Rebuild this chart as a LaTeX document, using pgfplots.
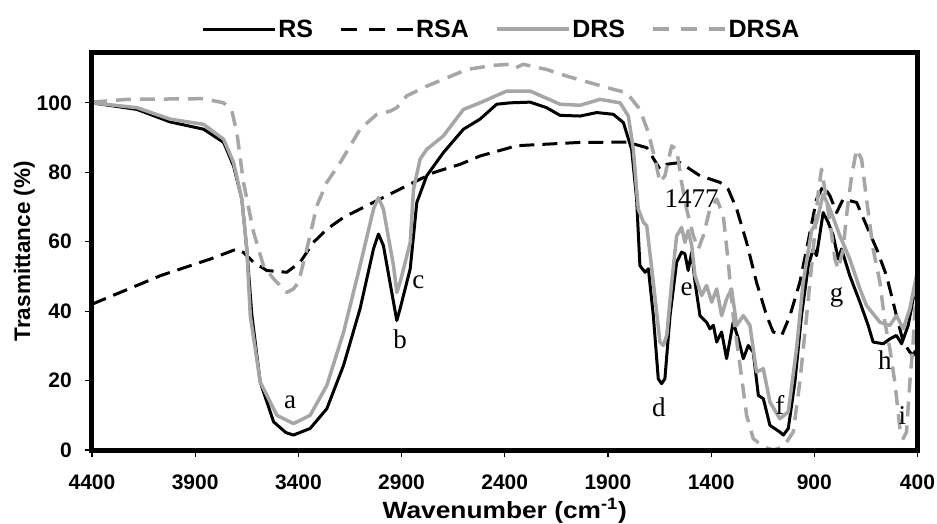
\documentclass[border=0pt]{standalone}
\usepackage{fontspec}
\setmainfont{Liberation Sans}
\newfontfamily\tnr{Liberation Serif}
\usepackage{pgfplots}
\usepackage{pgfplotstable}
\pgfplotsset{compat=1.18}
\definecolor{lg}{RGB}{166,166,166}

\pgfplotstableread{
x y
4400 100.0
4182 98.1
4021 94.5
3859 92.4
3762 88.6
3714 81.8
3674 72.3
3650 57.9
3625 38.7
3585 19.6
3520 8.1
3460 5.0
3424 4.3
3343 6.2
3262 11.9
3181 24.4
3101 40.7
3036 57.9
3012 62.2
2988 58.9
2939 42.6
2923 37.3
2907 40.7
2858 52.2
2842 61.7
2826 71.3
2778 79.0
2697 85.7
2600 92.4
2520 95.3
2439 99.6
2374 100.0
2277 100.2
2197 98.6
2132 96.4
2035 96.2
1954 97.2
1874 96.7
1825 94.3
1785 86.6
1761 72.3
1745 53.1
1720 51.2
1704 52.2
1680 38.7
1656 20.5
1640 19.1
1624 20.5
1599 38.7
1567 54.1
1543 57.0
1527 56.5
1511 51.7
1494 57.0
1478 48.3
1454 38.7
1422 36.8
1406 34.9
1389 35.9
1373 31.1
1349 34.0
1325 26.3
1293 36.8
1268 32.0
1244 26.3
1220 30.1
1196 28.2
1171 15.7
1147 14.8
1115 7.1
1067 5.2
1050 4.3
1026 6.2
994 19.6
962 38.7
929 53.1
905 57.9
889 56.0
857 68.4
833 65.6
808 61.7
784 55.0
768 57.9
728 50.2
679 42.6
639 35.9
615 31.1
566 30.6
534 32.0
502 33.0
477 30.6
445 35.9
421 43.5
405 49.3
}\RS

\pgfplotstableread{
x y
4400 42.0
4069 50.2
3827 55.0
3698 57.9
3666 56.9
3617 54.1
3553 51.7
3456 51.2
3391 54.1
3327 59.8
3262 63.6
3181 67.0
3101 69.4
3004 72.3
2939 74.2
2858 76.6
2745 79.9
2616 82.3
2519 84.7
2374 87.1
2358 87.6
2197 88.1
2035 88.6
1809 88.7
1712 87.1
1648 80.9
1615 82.3
1551 82.8
1454 79.0
1357 77.1
1317 75.1
1276 69.4
1228 59.8
1180 48.3
1131 38.7
1099 34.0
1058 33.0
1018 38.7
970 48.3
921 62.7
889 72.3
857 76.1
824 73.2
792 68.4
760 72.3
695 71.3
647 64.6
598 57.9
550 50.2
518 42.6
502 38.7
469 31.1
437 28.2
421 27.3
405 29.2
}\RSA

\pgfplotstableread{
x y
4400 100.0
4182 98.6
4021 95.3
3859 93.8
3762 89.5
3714 82.8
3674 72.3
3650 57.9
3633 38.7
3585 19.6
3504 10.0
3424 7.6
3343 10.0
3262 18.6
3181 33.9
3101 53.1
3036 69.4
3012 72.7
2988 69.4
2939 53.1
2923 45.4
2907 48.3
2858 59.8
2842 75.1
2810 83.8
2778 86.6
2697 90.5
2600 98.1
2520 100.0
2390 103.4
2277 103.4
2132 99.6
2035 99.3
1938 101.0
1841 100.0
1801 96.2
1777 86.6
1753 69.4
1728 65.6
1712 64.6
1680 48.3
1648 31.1
1632 30.1
1615 33.0
1591 48.3
1567 61.7
1543 64.1
1527 59.8
1511 63.2
1494 58.9
1478 50.2
1446 44.5
1422 47.4
1397 42.6
1373 46.4
1349 38.7
1325 43.5
1301 46.4
1276 35.9
1244 38.7
1212 35.9
1180 22.5
1147 23.4
1115 13.8
1067 9.0
1026 11.0
986 29.2
954 48.3
913 63.2
889 65.6
857 73.7
824 69.4
776 61.7
728 55.0
679 46.4
647 41.6
582 36.8
534 35.9
502 38.7
469 34.9
437 40.7
405 50.2
400 0
}\DRS

\pgfplotstableread{
x y
4400 100.2
4231 101.0
3859 101.2
3762 100.0
3722 97.6
3698 91.4
3666 77.1
3617 62.7
3569 53.1
3520 49.3
3456 45.4
3424 46.4
3399 48.3
3359 57.9
3310 70.4
3262 77.1
3197 82.8
3101 92.4
3020 96.7
2955 97.6
2923 98.6
2875 102.0
2778 104.8
2697 106.8
2584 109.6
2455 110.8
2374 111.1
2350 110.0
2310 111.1
2197 109.6
2100 107.7
1987 105.8
1874 103.9
1809 102.9
1745 98.1
1704 91.4
1672 83.8
1648 77.1
1624 79.0
1591 87.6
1567 86.6
1543 77.1
1519 69.4
1486 61.7
1462 57.9
1438 61.7
1406 69.4
1373 72.3
1341 67.5
1317 54.1
1293 38.7
1260 24.4
1228 10.0
1196 3.3
1147 0.9
1099 0.0
1050 0.9
1002 5.2
970 19.6
937 38.7
905 57.9
881 74.2
865 80.9
849 75.1
824 65.6
800 55.0
784 52.1
760 57.9
744 67.5
719 79.0
695 86.6
671 83.8
647 72.3
615 57.9
582 48.3
558 36.8
534 29.2
510 19.6
485 6.2
469 3.3
453 5.2
437 19.6
421 31.1
405 48.3
}\DRSA

\begin{document}
\begin{tikzpicture}
\begin{axis}[
  name=ax,
  scale only axis, width=825.5pt, height=397.5pt,
  at={(0pt,0pt)}, anchor=south west,
  x dir=reverse, xmin=400, xmax=4400, ymin=0, ymax=114.5,
  xtick={400,900,...,4400}, ytick={0,20,...,100},
  tick pos=left, tick align=outside, major tick length=7pt,
  major tick style={line width=1.2pt, black},
  /pgf/number format/assume math mode=true,
  /pgf/number format/set thousands separator={},
  ticklabel style={font=\bfseries\fontsize{21}{21}\selectfont},
  xticklabel style={anchor=center, inner sep=0pt, yshift=-25.5pt},
  yticklabel style={anchor=east, inner sep=0pt, xshift=-13pt},
  xlabel={\scalebox{1.12}[1]{Wavenumber (cm\textsuperscript{-1})}},
  ylabel={Trasmittance (\%)},
  every axis x label/.style={at={(axis description cs:0.5,-0.152)}, anchor=center,
    font=\bfseries\fontsize{23.5}{23.5}\selectfont},
  every axis y label/.style={at={(axis description cs:-0.082,0.5)}, anchor=center, rotate=90,
    font=\bfseries\fontsize{22.5}{22.5}\selectfont},
  legend columns=4,
  legend style={draw=none, fill=none, at={(axis description cs:0.496,1.059)}, anchor=center,
    font=\bfseries\fontsize{25}{25}\selectfont, inner sep=0pt,
    /tikz/every even column/.append style={column sep=24pt}},
  legend image code/.code={\draw[#1] (0pt,0pt) -- (72pt,0pt);},
  line join=round,
]
\addplot[black, line width=3pt] table {\RS};
\addlegendentry{RS}
\addplot[black, line width=3pt, dash pattern=on 15pt off 8pt,
  legend image post style={dash pattern=on 16pt off 12pt}] table {\RSA};
\addlegendentry{RSA}
\addplot[lg, line width=3.5pt] table {\DRS};
\addlegendentry{DRS}
\addplot[lg, line width=3.5pt, dash pattern=on 15pt off 9pt,
  legend image post style={dash pattern=on 16pt off 12pt}] table {\DRSA};
\addlegendentry{DRSA}
\begin{scope}[every node/.style={font=\tnr\fontsize{27}{27}\selectfont, inner sep=0pt}]
\node at (axis cs:3440,13.8) {a};
\node at (axis cs:2907,32.0) {b};
\node at (axis cs:2818,48.3) {c};
\node at (axis cs:1653,12.4) {d};
\node at (axis cs:1519,46.4) {e};
\node at (axis cs:1494,72.3) {1477};
\node at (axis cs:1067,12.9) {f};
\node at (axis cs:792,44.0) {g};
\node at (axis cs:558,25.8) {h};
\node at (axis cs:473,10.0) {i};
\end{scope}
\end{axis}
\draw[line width=5pt, line join=miter] (ax.south west) rectangle (ax.north east);
\pgfresetboundingbox
\path[use as bounding box] (-92pt,-73pt) rectangle (845pt,450pt);
\end{tikzpicture}
\end{document}
